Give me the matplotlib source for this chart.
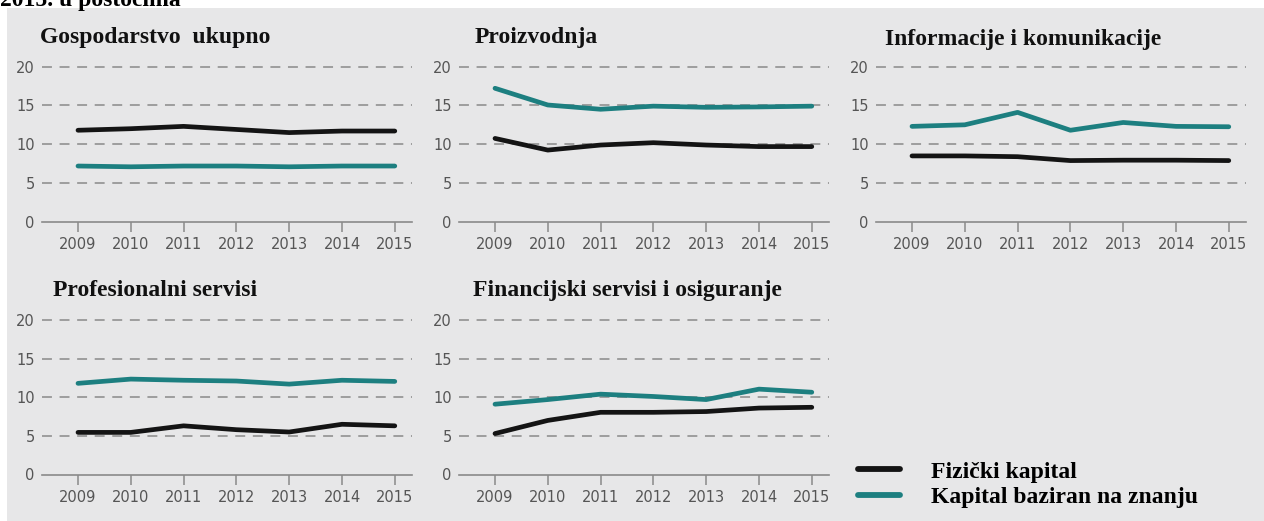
import matplotlib
matplotlib.use('Agg')
import matplotlib.pyplot as plt
from matplotlib.lines import Line2D
from matplotlib.patches import Rectangle

years = [2009, 2010, 2011, 2012, 2013, 2014, 2015]

titles = ['Gospodarstvo  ukupno', 'Proizvodnja', 'Informacije i komunikacije',
          'Profesionalni servisi', 'Financijski servisi i osiguranje']

# Fizički kapital (crna linija)
fizicki = [
    [11.8, 12.0, 12.3, 11.9, 11.5, 11.7, 11.7],
    [10.75, 9.25, 9.9, 10.2, 9.9, 9.7, 9.7],
    [8.5, 8.5, 8.4, 7.9, 7.95, 7.95, 7.9],
    [5.45, 5.45, 6.3, 5.8, 5.5, 6.5, 6.3],
    [5.3, 7.0, 8.05, 8.05, 8.15, 8.6, 8.7],
]

# Kapital baziran na znanju (tirkizna linija)
znanje = [
    [7.2, 7.1, 7.2, 7.2, 7.1, 7.2, 7.2],
    [17.2, 15.05, 14.5, 14.9, 14.75, 14.8, 14.9],
    [12.3, 12.5, 14.1, 11.8, 12.8, 12.3, 12.25],
    [11.8, 12.35, 12.2, 12.1, 11.7, 12.2, 12.05],
    [9.1, 9.7, 10.4, 10.1, 9.7, 11.05, 10.65],
]

yticks = [0, 5, 10, 15, 20]
legend_labels = ['Fizički kapital', 'Kapital baziran na znanju']

W, H = 1264, 521
BG = '#e7e7e8'
BLACK = '#141414'
TEAL = '#1d7f80'
GRID = '#8a8a8a'
TICKC = '#555555'

fig = plt.figure(figsize=(W / 100, H / 100), dpi=100, facecolor='white')
fig.patches.append(Rectangle((7 / W, 0), 1, 1 - 8 / H, transform=fig.transFigure,
                             facecolor=BG, edgecolor='none', zorder=-5))

# heading that is cut off at the very top (as in the source image)
fig.text(0 / W, 1 - 6 / H, '2015. u postocima', family='Liberation Serif',
         weight='bold', fontsize=17, color='black', va='baseline', ha='left')

xlim = (2008.31, 2015.32)
pxyear = 52.8
axw = (xlim[1] - xlim[0]) * pxyear

# (x pixel of 2009, y pixel of 0, y pixel of 20)
layout = [(78, 222, 66.5), (495, 222, 66.5), (912, 222, 66.5),
          (78, 474.5, 320), (495, 474.5, 320)]
title_pos = [(40, 43), (475, 43), (885, 45), (53, 296), (473, 296)]

for i, (x09, y0, y20) in enumerate(layout):
    left = x09 - (2009 - xlim[0]) * pxyear
    ax = fig.add_axes([left / W, 1 - y0 / H, axw / W, (y0 - y20) / H])
    ax.set_facecolor('none')
    ax.set_xlim(*xlim)
    ax.set_ylim(0, 20)
    for s in ['top', 'right', 'left']:
        ax.spines[s].set_visible(False)
    ax.spines['bottom'].set_color(GRID)
    ax.spines['bottom'].set_linewidth(1.2)
    for v in yticks[1:]:
        ax.axhline(v, color=GRID, lw=1.1, dashes=(6.5, 5), zorder=1, clip_on=False)
    ax.set_xticks(years)
    ax.set_yticks(yticks)
    ax.tick_params(axis='x', direction='out', length=7, width=1.1, color=GRID,
                   labelsize=10.5, labelcolor=TICKC, pad=4)
    ax.tick_params(axis='y', length=0, labelsize=10.5, labelcolor=TICKC, pad=5)
    ax.plot(years, fizicki[i], color=BLACK, lw=3.4, solid_joinstyle='round',
            solid_capstyle='round', zorder=3, clip_on=False)
    ax.plot(years, znanje[i], color=TEAL, lw=3.4, solid_joinstyle='round',
            solid_capstyle='round', zorder=3, clip_on=False)
    tx, ty = title_pos[i]
    fig.text(tx / W, 1 - ty / H, titles[i], family='Liberation Serif',
             weight='bold', fontsize=17, color='#111111', va='baseline', ha='left')

handles = [Line2D([], [], color=BLACK, lw=4.2, solid_capstyle='round'),
           Line2D([], [], color=TEAL, lw=4.2, solid_capstyle='round')]
fig.legend(handles, legend_labels, loc='upper left',
           bbox_to_anchor=(858 / W, 1 - 461 / H), frameon=False,
           prop={'family': 'Liberation Serif', 'weight': 'bold', 'size': 17},
           handlelength=1.8, handletextpad=1.3, labelspacing=0.18,
           borderpad=0, borderaxespad=0)

fig.savefig('out.png', dpi=100, facecolor='white')
